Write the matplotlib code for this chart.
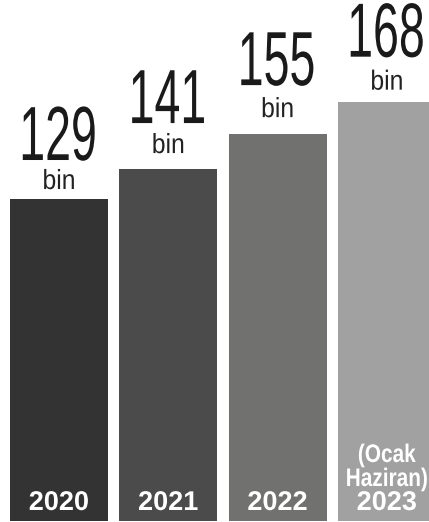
"""Yearly totals bar chart (bin) with labels inside the bars."""

import matplotlib
matplotlib.use("Agg")
import matplotlib.pyplot as plt
from matplotlib.patheffects import AbstractPathEffect
from matplotlib.transforms import Affine2D

years = ["2020", "2021", "2022", "(Ocak\nHaziran)\n2023"]
values = [129, 141, 155, 168]
unit = "bin"
bar_colors = ["#333333", "#4b4b4b", "#71726f", "#a1a1a1"]

# hand-placed label heights above each bar top, in pixels (layout only)
num_offsets = [39, 46, 49, 45]
unit_offsets = [10, 16, 17, 12]

DPI = 100
W_PX, H_PX = 429, 522
FONT = ["Liberation Sans", "DejaVu Sans"]


class Stretch(AbstractPathEffect):
    """Stretch a text vertically about its baseline (condensed look)."""

    def __init__(self, sy):
        super().__init__()
        self.sy = sy

    def draw_path(self, renderer, gc, tpath, affine, rgbFace=None):
        t = Affine2D().scale(1, self.sy) + affine
        renderer.draw_path(gc, tpath, t, rgbFace)


fig = plt.figure(figsize=(W_PX / DPI, H_PX / DPI), dpi=DPI, facecolor="white")
ax = fig.add_axes([0, 0, 1, 1])

x = list(range(len(values)))
ax.bar(x, values, width=0.897, color=bar_colors, linewidth=0)

# pixel mapping: pitch ~109.3 px, first bar centre at 59 px, 2.496 px per unit
ax.set_xlim(-59 / 109.3, (W_PX - 59) / 109.3)
ax.set_ylim(-1 / 2.496, (H_PX - 1) / 2.496)
ax.set_axis_off()

for xi, v, n_off, u_off in zip(x, values, num_offsets, unit_offsets):
    ax.annotate(str(v), (xi, v), xytext=(-1, n_off), textcoords="offset pixels",
                ha="center", va="baseline", fontsize=33.5, color="#1a1a1a",
                family=FONT, path_effects=[Stretch(1.65)])
    ax.annotate(unit, (xi, v), xytext=(0, u_off), textcoords="offset pixels",
                ha="center", va="baseline", fontsize=17.8, color="#222222",
                family=FONT, path_effects=[Stretch(1.12)])

for xi, label in zip(x, years):
    lines = label.split("\n")
    for k, line in enumerate(reversed(lines)):
        if line.isdigit():
            size, sy = 19.5, 1.0
        else:
            size, sy = 15, 1.22
        ax.annotate(line, (xi, 0), xytext=(0, 11 + 24 * k), textcoords="offset pixels",
                    ha="center", va="baseline", fontsize=size, fontweight="bold",
                    color="white", family=FONT, path_effects=[Stretch(sy)])

fig.savefig("out.png", dpi=DPI, facecolor="white")
plt.close(fig)
